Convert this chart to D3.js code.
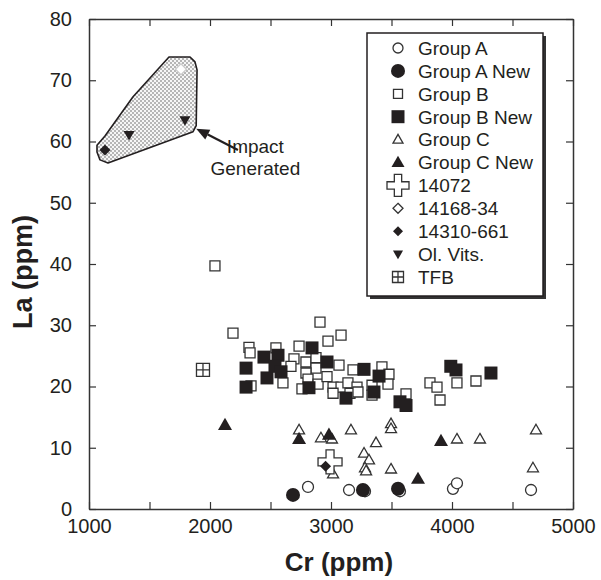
<!DOCTYPE html>
<html>
<head>
<meta charset="utf-8">
<script src="https://cdn.jsdelivr.net/npm/d3@7"></script>
<style>
  body { margin: 0; background: #fff; }
  svg { font-family: "Liberation Sans", Arial, Helvetica, sans-serif; }
</style>
</head>
<body>
<div class="chart"></div>
<script>
// Cr vs La scatter, groups of lunar samples

const xTicks = [1000, 2000, 3000, 4000, 5000];
const yTicks = [0, 10, 20, 30, 40, 50, 60, 70, 80];

const groupA = [[2810,3.6],[3149,3.1],[3281,2.9],[3570,2.9],[4008,3.3],[4041,4.2],[4653,3.1]];
const groupANew = [[2686,2.3],[3264,3.1],[3554,3.3]];
const groupB = [
    [2041,39.7],[2190,28.7],[2322,26.4],[2331,25.5],[2545,26.3],[2736,26.6],[2909,30.5],
    [2694,24.5],[2669,23.3],[2603,20.6],[2339,20.1],[2793,24.0],[2876,24.7],[2876,23.0],
    [2793,22.2],[2810,21.2],[2893,20.4],[2760,19.6],[2975,27.4],[3083,28.4],[3066,23.5],
    [3182,22.7],[3421,23.2],[3479,22.0],[3471,20.4],[2967,21.6],[3017,19.9],[3083,19.9],
    [3140,20.6],[3215,19.9],[3017,18.9],[3157,18.9],[3223,19.1],[3339,20.2],[3339,18.6],
    [3620,18.8],[3818,20.6],[3876,19.9],[3901,17.8],[4041,20.6],[4198,20.9]
];
const groupBNew = [
    [2298,23.0],[2298,19.9],[2446,24.8],[2471,21.4],[2562,25.1],[2537,23.3],[2587,22.4],
    [2843,26.3],[2818,19.8],[2967,24.0],[3273,22.8],[3397,21.7],[3355,19.1],[3124,18.1],
    [3570,17.5],[3620,16.9],[3990,23.3],[4033,22.7],[4322,22.2]
];
const groupC = [
    [2736,12.9],[2917,11.6],[3165,12.9],[3008,11.4],[3372,10.8],[3496,13.9],[3496,13.1],
    [3273,9.1],[3314,8.0],[3281,6.7],[3290,6.2],[3496,6.5],[3017,5.7],[4041,11.4],
    [4231,11.4],[4694,12.9],[4669,6.7]
];
const groupCNew = [[2124,13.7],[2736,11.4],[2983,12.1],[3719,4.9],[3909,11.1]];
const s14072 = [[2992,7.7]];
const s14168 = [[1760,71.8]];
const s14310 = [[2955,7.0],[1132,58.6]];
const olVits = [[1331,61.1],[1793,63.5]];
const tfb = [[1942,22.7]];

// outline of the "Impact Generated" field
const impactHull = [
    [1661,73.8],[1835,73.8],[1876,73.0],[1893,71.7],[1886,62.6],[1860,61.6],
    [1157,56.5],[1091,57.0],[1066,58.3],[1066,59.4],[1132,60.9],[1364,67.3]
];
const arrowFrom = [2231, 58.6];
const arrowTo = [1886, 62.1];
const noteLines = ["Impact", "Generated"];

const series = [
    {name: "Group A",     shape: "circle",  fill: false, size: 11, data: groupA},
    {name: "Group A New", shape: "circle",  fill: true,  size: 14, data: groupANew},
    {name: "Group B",     shape: "square",  fill: false, size: 10, data: groupB},
    {name: "Group B New", shape: "square",  fill: true,  size: 13, data: groupBNew},
    {name: "Group C",     shape: "triangle", fill: false, size: 11, data: groupC},
    {name: "Group C New", shape: "triangle", fill: true,  size: 14, data: groupCNew},
    {name: "14072",       shape: "cross",   fill: false, size: 24, data: s14072},
    {name: "14168-34",    shape: "diamond", fill: false, size: 11, data: s14168, faint: true},
    {name: "14310-661",   shape: "diamond", fill: true,  size: 11, data: s14310},
    {name: "Ol. Vits.",   shape: "down",    fill: true,  size: 11, data: olVits},
    {name: "TFB",         shape: "tfb",     fill: false, size: 13, data: tfb}
];
// legend sizes differ a bit from the plotted marks
const legendSizes = [10, 14, 9, 13, 10, 13, 22, 10, 10, 10, 11];

const width = 601, height = 580;
const ink = "#231f20";

const svg = d3.select(".chart").append("svg")
    .attr("width", width)
    .attr("height", height);

const x = d3.scaleLinear().domain([1000, 5000]).range([89, 573]);
const y = d3.scaleLinear().domain([0, 80]).range([509, 19]);

function shapePath(shape, s) {
    const h = s / 2;
    if (shape === "circle") {
        return `M${h},0A${h},${h} 0 1,1 ${-h},0A${h},${h} 0 1,1 ${h},0Z`;
    }
    if (shape === "square" || shape === "tfb") {
        return `M${-h},${-h}H${h}V${h}H${-h}Z`;
    }
    if (shape === "triangle") {
        const th = s * 0.87;
        return `M0,${-th * 0.6}L${h},${th * 0.4}L${-h},${th * 0.4}Z`;
    }
    if (shape === "down") {
        const th = s * 0.87;
        return `M0,${th * 0.6}L${h},${-th * 0.4}L${-h},${-th * 0.4}Z`;
    }
    if (shape === "diamond") {
        return `M0,${-h}L${h},0L0,${h}L${-h},0Z`;
    }
    if (shape === "cross") {
        const a = s / 6;
        return `M${-a},${-h}H${a}V${-a}H${h}V${a}H${a}V${h}H${-a}V${a}H${-h}V${-a}H${-a}Z`;
    }
    return "";
}

function drawMark(sel, d, size, stroke) {
    sel.append("path")
        .attr("d", shapePath(d.shape, size))
        .attr("fill", d.fill ? ink : "#fff")
        .attr("stroke", d.fill ? "none" : (stroke || "#333"))
        .attr("stroke-width", 1.3);
    if (d.shape === "tfb") {
        const h = size / 2;
        sel.append("path")
            .attr("d", `M0,${-h}V${h}M${-h},0H${h}`)
            .attr("stroke", "#333")
            .attr("stroke-width", 1.3);
    }
}

// stipple pattern for the impact field
const defs = svg.append("defs");
const pat = defs.append("pattern")
    .attr("id", "stipple")
    .attr("patternUnits", "userSpaceOnUse")
    .attr("width", 4)
    .attr("height", 4);
pat.append("rect").attr("width", 4).attr("height", 4).attr("fill", "#f6f6f6");
pat.append("circle").attr("cx", 1).attr("cy", 1).attr("r", 0.7).attr("fill", "#444");
pat.append("circle").attr("cx", 3).attr("cy", 3).attr("r", 0.7).attr("fill", "#444");

svg.append("path")
    .datum(impactHull)
    .attr("d", d3.line().x(d => x(d[0])).y(d => y(d[1])).curve(d3.curveLinearClosed))
    .attr("fill", "url(#stipple)")
    .attr("stroke", ink)
    .attr("stroke-width", 1.6)
    .attr("stroke-linejoin", "round");

// axes, ticks pointing inwards on all four sides
const minorX = d3.range(1000, 5001, 500);
const axisStyle = g => {
    g.selectAll(".domain").attr("stroke", "#333").attr("stroke-width", 1.5);
    g.selectAll(".tick line").attr("stroke", "#333").attr("stroke-width", 1.2);
    g.selectAll("text").attr("fill", ink).attr("font-size", 20);
};

svg.append("g")
    .attr("transform", `translate(0,${y(0)})`)
    .call(d3.axisBottom(x).tickValues(minorX).tickSize(-7).tickSizeOuter(0).tickPadding(10)
        .tickFormat(d => xTicks.includes(d) ? d : ""))
    .call(axisStyle);

svg.append("g")
    .attr("transform", `translate(0,${y(80)})`)
    .call(d3.axisTop(x).tickValues(minorX).tickSize(-7).tickSizeOuter(0).tickFormat(""))
    .call(axisStyle);

svg.append("g")
    .attr("transform", `translate(${x(1000)},0)`)
    .call(d3.axisLeft(y).tickValues(yTicks).tickSize(-7).tickSizeOuter(0).tickPadding(17))
    .call(axisStyle);

svg.append("g")
    .attr("transform", `translate(${x(5000)},0)`)
    .call(d3.axisRight(y).tickValues(yTicks).tickSize(-7).tickSizeOuter(0).tickFormat(""))
    .call(axisStyle);

// axis titles
svg.append("text")
    .attr("x", 339)
    .attr("y", 571)
    .attr("text-anchor", "middle")
    .attr("font-size", 26)
    .attr("font-weight", "bold")
    .attr("fill", ink)
    .text("Cr (ppm)");

svg.append("text")
    .attr("transform", "translate(32,272) rotate(-90)")
    .attr("text-anchor", "middle")
    .attr("font-size", 27)
    .attr("font-weight", "bold")
    .attr("fill", ink)
    .text("La (ppm)");

// points
series.forEach(s => {
    const g = svg.append("g").attr("class", "series");
    s.data.forEach(p => {
        const m = g.append("g").attr("transform", `translate(${x(p[0])},${y(p[1])})`);
        drawMark(m, s, s.size, s.faint ? "#ccc" : null);
    });
});

// annotation arrow + text
const ax0 = x(arrowFrom[0]), ay0 = y(arrowFrom[1]);
const ax1 = x(arrowTo[0]), ay1 = y(arrowTo[1]);
const ang = Math.atan2(ay1 - ay0, ax1 - ax0);
const headLen = 13, headW = 5.5;
const bx = ax1 - headLen * Math.cos(ang), by = ay1 - headLen * Math.sin(ang);
svg.append("line")
    .attr("x1", ax0).attr("y1", ay0)
    .attr("x2", bx).attr("y2", by)
    .attr("stroke", ink)
    .attr("stroke-width", 2.2);
svg.append("path")
    .attr("d", `M${ax1},${ay1}L${bx - headW * Math.sin(ang)},${by + headW * Math.cos(ang)}L${bx + headW * Math.sin(ang)},${by - headW * Math.cos(ang)}Z`)
    .attr("fill", ink);

svg.append("text")
    .attr("x", x(2380))
    .attr("y", y(58.1))
    .attr("text-anchor", "middle")
    .attr("font-size", 19)
    .attr("fill", ink)
    .selectAll("tspan")
    .data(noteLines)
    .join("tspan")
    .attr("x", x(2375))
    .attr("dy", (d, i) => i === 0 ? 0 : 22)
    .text(d => d);

// legend with drop shadow
const lg = svg.append("g").attr("class", "legend");
lg.append("rect")
    .attr("x", 370).attr("y", 36).attr("width", 176).attr("height", 263)
    .attr("fill", "#333");
lg.append("rect")
    .attr("x", 367).attr("y", 33).attr("width", 176).attr("height", 263)
    .attr("fill", "#fff")
    .attr("stroke", ink)
    .attr("stroke-width", 1.5);

series.forEach((s, i) => {
    const row = lg.append("g").attr("transform", `translate(0,${48 + i * 22.9})`);
    const m = row.append("g").attr("transform", "translate(398,0)");
    drawMark(m, s, legendSizes[i]);
    row.append("text")
        .attr("x", 418)
        .attr("y", 0)
        .attr("dy", "0.36em")
        .attr("font-size", 19)
        .attr("fill", ink)
        .text(s.name);
});
</script>
</body>
</html>
